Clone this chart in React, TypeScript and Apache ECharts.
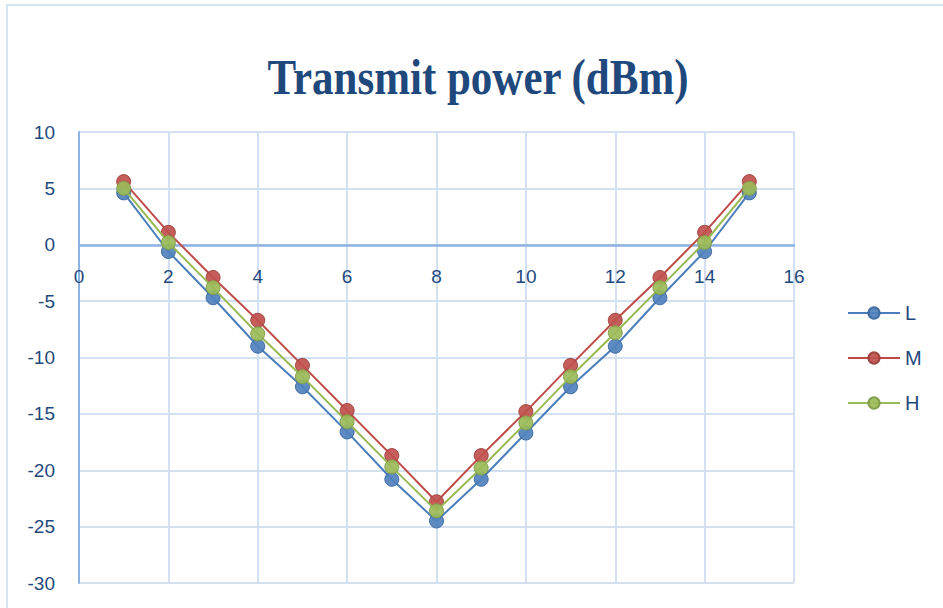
import React, { useEffect, useRef } from "react";
import * as echarts from "echarts";

const xValues = [1, 2, 3, 4, 5, 6, 7, 8, 9, 10, 11, 12, 13, 14, 15];
const seriesL = [4.6, -0.6, -4.7, -9.0, -12.6, -16.6, -20.8, -24.5, -20.8, -16.7, -12.6, -9.0, -4.7, -0.6, 4.6];
const seriesM = [5.6, 1.1, -2.9, -6.7, -10.7, -14.7, -18.7, -22.8, -18.7, -14.8, -10.7, -6.7, -2.9, 1.1, 5.6];
const seriesH = [5.0, 0.2, -3.8, -7.9, -11.7, -15.7, -19.7, -23.6, -19.8, -15.8, -11.7, -7.8, -3.8, 0.2, 5.0];
const seriesNames = ["L", "M", "H"];
const titleText = "Transmit power (dBm)";

const lineColors = ["#4A7EBB", "#BE4B48", "#98B954"];
const fillColors = ["#4F81BD", "#C0504D", "#9BBB59"];
const borderColors = ["#3A669C", "#9A3C3A", "#7E9A45"];

export default function App() {
  const ref = useRef<HTMLDivElement>(null);
  useEffect(() => {
    if (!ref.current) return;
    const chart = echarts.init(ref.current, null, { renderer: "svg" });
    const all = [seriesL, seriesM, seriesH];
    const textColor = "#1F497D";
    const gridTop = 132;
    const gridBottom = 25;
    const gridHeight = 608 - gridTop - gridBottom;
    const yMin = -30;
    const yMax = 10;
    // distance from the bottom of the plot to the y = 0 line
    const zeroOffset = (gridHeight * (0 - yMin)) / (yMax - yMin);
    chart.setOption({
      animation: false,
      backgroundColor: "#ffffff",
      textStyle: { fontFamily: "Liberation Sans" },
      graphic: [
        {
          type: "rect",
          shape: { x: 7, y: 5, width: 960, height: 640 },
          style: { fill: "none", stroke: "#D6E3F3", lineWidth: 2 },
          silent: true,
        },
        {
          type: "text",
          x: 478,
          y: 77,
          scaleX: 0.86,
          style: {
            text: titleText,
            fontFamily: "Liberation Serif",
            fontWeight: "bold",
            fontSize: 50,
            fill: textColor,
            textAlign: "center",
            textVerticalAlign: "middle",
          },
        },
      ],
      legend: {
        orient: "vertical",
        left: 842,
        top: 298,
        itemWidth: 52,
        itemHeight: 14,
        itemGap: 25,
        data: seriesNames,
        textStyle: { fontSize: 20, color: textColor, lineHeight: 20, fontFamily: "Liberation Sans" },
      },
      grid: {
        left: 79,
        right: 149,
        top: gridTop,
        bottom: gridBottom,
        containLabel: false,
        outerBoundsMode: "none",
      },
      xAxis: {
        type: "value",
        min: 0,
        max: 16,
        interval: 2,
        position: "bottom",
        offset: -zeroOffset,
        axisLine: { show: true, onZero: false, lineStyle: { color: "#8DB3E2", width: 2.5 } },
        axisTick: { show: false },
        axisLabel: { fontSize: 19, color: textColor, margin: 22 },
        splitLine: { show: true, lineStyle: { color: "#D3E0F2", width: 2 } },
      },
      yAxis: {
        type: "value",
        min: yMin,
        max: yMax,
        interval: 5,
        axisLine: { show: true, onZero: false, lineStyle: { color: "#8DB3E2", width: 2 } },
        axisTick: { show: false },
        axisLabel: { fontSize: 19, color: textColor, margin: 24 },
        splitLine: { show: true, lineStyle: { color: "#D3E0F2", width: 2 } },
      },
      series: seriesNames.map((name, i) => ({
        name,
        type: "line",
        data: xValues.map((x, j) => [x, all[i][j]]),
        symbol: "circle",
        symbolSize: 14,
        lineStyle: { color: lineColors[i], width: 2 },
        itemStyle: { color: fillColors[i], borderColor: borderColors[i], borderWidth: 1, opacity: 0.92 },
        z: 3 + i,
      })),
    });
    return () => chart.dispose();
  }, []);
  return (
    <div
      ref={ref}
      style={{ position: "absolute", left: 0, top: 0, width: 943, height: 608 }}
    />
  );
}
